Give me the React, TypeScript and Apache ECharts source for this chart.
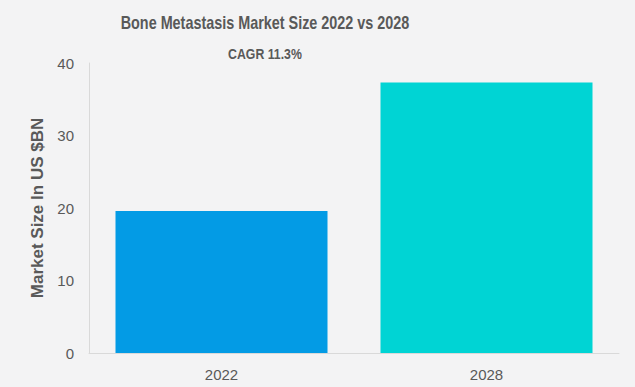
import React, { useEffect, useRef } from "react";
import * as echarts from "echarts";

const categories = ["2022", "2028"];
const values = [19.6, 37.3];
const barColors = ["#039be5", "#00d4d4"];
const titleText = "Bone Metastasis Market Size 2022 vs 2028";
const subtitleText = "CAGR 11.3%";
const yAxisName = "Market Size In US $BN";

export default function App() {
  const ref = useRef<HTMLDivElement>(null);
  useEffect(() => {
    document.body.style.margin = "0";
    document.body.style.overflow = "hidden";
    if (!ref.current) return;
    const chart = echarts.init(ref.current, null, { renderer: "svg" });
    chart.setOption({
      animation: false,
      backgroundColor: "#f3f3f4",
      textStyle: { fontFamily: "Liberation Sans, Arial, sans-serif" },
      graphic: [
        {
          type: "text",
          x: 265,
          y: 22,
          scaleX: 0.8,
          style: {
            text: titleText,
            fontSize: 18,
            fontWeight: "bold",
            fill: "#595959",
            fontFamily: "Liberation Sans, Arial, sans-serif",
            align: "center",
            verticalAlign: "middle",
          },
        },
        {
          type: "text",
          x: 265,
          y: 54,
          scaleX: 0.82,
          style: {
            text: subtitleText,
            fontSize: 15,
            fontWeight: "bold",
            fill: "#595959",
            fontFamily: "Liberation Sans, Arial, sans-serif",
            align: "center",
            verticalAlign: "middle",
          },
        },
      ],
      grid: { left: 89, right: 16, top: 63, bottom: 34, containLabel: false },
      xAxis: {
        type: "category",
        data: categories,
        axisLine: { lineStyle: { color: "#d9d9d9" } },
        axisTick: { show: false },
        axisLabel: { color: "#595959", fontSize: 15, margin: 14 },
      },
      yAxis: {
        type: "value",
        min: 0,
        max: 40,
        interval: 10,
        name: yAxisName,
        nameLocation: "middle",
        nameGap: 41,
        nameTextStyle: { fontSize: 17, fontWeight: "bold", color: "#595959" },
        axisLine: { show: true, lineStyle: { color: "#d9d9d9" } },
        axisTick: { show: false },
        splitLine: { show: false },
        axisLabel: { color: "#595959", fontSize: 15, margin: 15 },
      },
      series: [
        {
          type: "bar",
          barWidth: "80%",
          data: values.map((v, i) => ({ value: v, itemStyle: { color: barColors[i] } })),
        },
      ],
    });
    return () => chart.dispose();
  }, []);
  return <div ref={ref} style={{ width: 635, height: 387 }} />;
}
